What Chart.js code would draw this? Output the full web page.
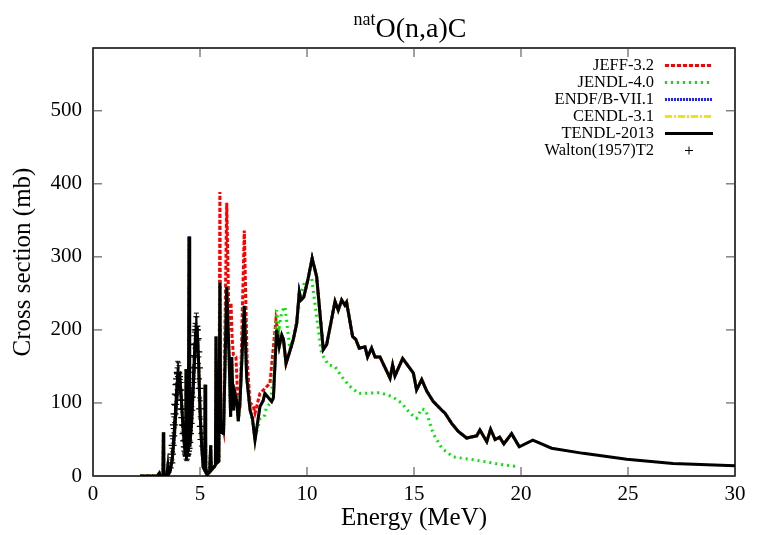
<!DOCTYPE html>
<html>
<head>
<meta charset="utf-8">
<script src="https://cdn.jsdelivr.net/npm/chart.js@4/dist/chart.umd.min.js"></script>
<style>
  html, body { margin: 0; padding: 0; background: #fff; }
  #wrap { width: 761px; height: 535px; }
</style>
</head>
<body>
<div id="wrap"><canvas id="myChart" width="761" height="535"></canvas></div>
<script>
// TENDL-2013 (black)
const tendlE = [2.2, 3.0, 3.1, 3.15, 3.27, 3.29, 3.31, 3.45, 3.5, 3.54, 3.6, 3.7, 3.8, 3.9, 3.98, 4.05, 4.12, 4.2, 4.28, 4.33,
  4.35, 4.37, 4.45, 4.49, 4.52, 4.6, 4.7, 4.8, 4.86, 4.93, 5.0, 5.08, 5.15, 5.22, 5.24, 5.27, 5.35, 5.45, 5.5, 5.53,
  5.65, 5.72, 5.75, 5.8, 5.88, 5.93, 5.97, 6.1, 6.25, 6.36, 6.43, 6.48, 6.56, 6.64, 6.71, 6.79, 6.87, 7.07, 7.18, 7.34,
  7.45, 7.57, 7.8, 7.95, 8.03, 8.35, 8.43, 8.58, 8.7, 8.82, 8.9, 9.02, 9.2, 9.36, 9.52, 9.64, 9.72, 9.85, 10.05, 10.24,
  10.45, 10.76, 10.92, 11.31, 11.46, 11.62, 11.77, 11.85, 12.13, 12.28, 12.44, 12.71, 12.83, 13.02, 13.18, 13.41, 13.88, 14.0, 14.11, 14.47,
  14.97, 15.12, 15.36, 15.6, 15.9, 16.3, 16.45, 16.76, 17.07, 17.46, 17.93, 18.08, 18.4, 18.58, 18.79, 19.0, 19.2, 19.56, 19.92, 20.55,
  21.43, 22.91, 24.94, 27.1, 30];
const tendlV = [0, 0, 4, 0, 0, 60, 0, 2, 14, 3, 6, 22, 55, 100, 135, 138, 110, 70, 40, 30,
  146, 30, 35, 328, 40, 70, 130, 190, 205, 160, 90, 40, 12, 8, 125, 10, 2, 6, 42, 8,
  12, 15, 191, 18, 20, 265, 60, 58, 259, 163, 81, 163, 90, 113, 103, 75, 103, 233, 136, 90,
  79, 49, 95, 103, 113, 102, 107, 200, 177, 193, 187, 154, 171, 187, 209, 252, 241, 245, 270, 298,
  273, 173, 180, 239, 227, 241, 234, 238, 191, 187, 175, 177, 163, 175, 163, 163, 134, 152, 137, 161,
  141, 118, 132, 116, 102, 90, 86, 72, 61, 52, 55, 63, 47, 64, 50, 53, 44, 58, 40, 49,
  38, 31, 23, 17, 14];

// JEFF-3.2 (red) where it differs from TENDL, below 9 MeV
const jeffE = [2.2, 3.0, 3.1, 3.15, 3.27, 3.29, 3.31, 3.45, 3.5, 3.54, 3.6, 3.7, 3.8, 3.9, 3.98, 4.05, 4.12, 4.2, 4.28, 4.33,
  4.35, 4.37, 4.45, 4.49, 4.52, 4.6, 4.7, 4.8, 4.86, 4.93, 5.0, 5.08, 5.15, 5.22, 5.24, 5.27, 5.35, 5.45, 5.5, 5.53,
  5.65, 5.72, 5.75, 5.8, 5.88, 5.93, 5.97, 6.1, 6.25, 6.36, 6.45, 6.5, 6.56, 6.68, 6.74, 6.87, 7.07, 7.2, 7.34, 7.49,
  7.57, 7.8, 8.04, 8.27, 8.55, 8.7, 8.82, 8.9];
const jeffV = [0, 0, 4, 0, 0, 60, 0, 2, 14, 3, 6, 22, 55, 100, 135, 138, 110, 70, 40, 30,
  146, 30, 35, 328, 40, 70, 130, 190, 205, 160, 90, 40, 12, 8, 125, 10, 2, 6, 42, 8,
  12, 15, 191, 18, 20, 389, 80, 62, 374, 200, 237, 190, 166, 163, 123, 92, 336, 160, 100, 96,
  86, 113, 120, 127, 214, 187, 193, 187];

// JENDL-4.0 (green) above 7.4 MeV; below that it follows TENDL
const jendlE = [7.45, 7.57, 7.7, 7.8, 8.0, 8.1, 8.3, 8.45, 8.58, 8.7, 8.82, 8.97, 9.1, 9.2, 9.36, 9.52, 9.7, 9.85, 10.0, 10.22,
  10.45, 10.68, 11.0, 11.3, 11.62, 12.0, 12.4, 13.41, 13.96, 14.42, 14.81, 15.12, 15.36, 15.55, 15.9, 16.3, 16.84, 17.6, 18.24, 19.0,
  19.8];
const jendlV = [75, 55, 65, 78, 81, 94, 100, 150, 227, 203, 225, 232, 200, 173, 190, 215, 245, 262, 268, 271,
  218, 168, 152, 150, 136, 123, 113, 114, 109, 100, 86, 79, 92, 90, 58, 38, 26, 23, 20, 16,
  13];

// Walton (1957) T2 experimental points with error bars
const walE = [3.66, 3.69, 3.72, 3.75, 3.78, 3.81, 3.84, 3.87, 3.90, 3.93, 3.96, 3.99, 4.02, 4.05, 4.08, 4.11, 4.14, 4.17, 4.20, 4.23,
  4.26, 4.29, 4.32, 4.35, 4.38, 4.41, 4.44, 4.47, 4.50, 4.53, 4.56, 4.59, 4.62, 4.65, 4.68, 4.71, 4.74, 4.77, 4.80, 4.83,
  4.86, 4.89, 4.92, 4.95, 4.98, 5.01, 5.04, 5.07];
const walV = [18, 30, 42, 55, 70, 85, 98, 112, 125, 133, 142, 140, 136, 128, 118, 104, 92, 80, 70, 58,
  48, 40, 34, 30, 28, 30, 34, 38, 46, 58, 72, 90, 108, 128, 148, 165, 180, 192, 200, 205,
  200, 188, 170, 148, 120, 92, 68, 50];
const walErr = [7, 8, 9, 10, 11, 12, 13, 14, 15, 15, 15, 15, 15, 14, 14, 13, 12, 11, 10, 9,
  8, 8, 7, 7, 7, 7, 7, 8, 8, 9, 10, 11, 13, 14, 15, 16, 17, 17, 18, 18,
  18, 17, 16, 15, 13, 11, 10, 9];

const xTicks = [0, 5, 10, 15, 20, 25, 30];
const yTicks = [0, 100, 200, 300, 400, 500];

const FONT = "'Liberation Serif', 'DejaVu Serif', serif";

const pts = (xs, ys) => xs.map((x, i) => ({ x: x, y: ys[i] }));
const tendl = pts(tendlE, tendlV);
const upTo20 = tendl.filter(p => p.x <= 20);
const jeff = pts(jeffE, jeffV).concat(tendl.filter(p => p.x > 9 && p.x <= 20));
const jendl = tendl.filter(p => p.x < 7.4).concat(pts(jendlE, jendlV));

const legendItems = [
    { label: 'JEFF-3.2', color: '#ff0000', dash: [4, 2] },
    { label: 'JENDL-4.0', color: '#00e600', dash: [2, 4] },
    { label: 'ENDF/B-VII.1', color: '#2020ff', dash: [2, 1] },
    { label: 'CENDL-3.1', color: '#f2e600', dash: [7, 2, 2, 2] },
    { label: 'TENDL-2013', color: '#000000', dash: [] },
    { label: 'Walton(1957)T2', color: '#000000', cross: true }
];

const lineSet = (item, data, order) => ({
    label: item.label,
    data: data,
    showLine: true,
    borderColor: item.color,
    borderWidth: 3,
    borderDash: item.dash,
    pointRadius: 0,
    tension: 0,
    order: order
});

// frame, inward ticks, titles, legend, error bars
const decor = {
    id: 'decor',
    afterDatasetsDraw(chart) {
        const ctx = chart.ctx;
        const a = chart.chartArea;
        const xs = chart.scales.x, ys = chart.scales.y;
        ctx.save();

        // error bars for the Walton set
        ctx.strokeStyle = '#000';
        ctx.lineWidth = 1;
        walE.forEach((e, i) => {
            const px = xs.getPixelForValue(e);
            const y1 = ys.getPixelForValue(walV[i] - walErr[i]);
            const y2 = ys.getPixelForValue(walV[i] + walErr[i]);
            ctx.beginPath();
            ctx.moveTo(px, y1); ctx.lineTo(px, y2);
            ctx.moveTo(px - 2.5, y1); ctx.lineTo(px + 2.5, y1);
            ctx.moveTo(px - 2.5, y2); ctx.lineTo(px + 2.5, y2);
            ctx.stroke();
        });

        // frame
        ctx.lineWidth = 1.5;
        ctx.strokeRect(a.left, a.top, a.right - a.left, a.bottom - a.top);

        // inward ticks on all four sides
        ctx.lineWidth = 1;
        ctx.strokeStyle = '#444';
        const tl = 9;
        xTicks.forEach(v => {
            const px = xs.getPixelForValue(v);
            ctx.beginPath();
            ctx.moveTo(px, a.bottom); ctx.lineTo(px, a.bottom - tl);
            ctx.moveTo(px, a.top); ctx.lineTo(px, a.top + tl);
            ctx.stroke();
        });
        yTicks.forEach(v => {
            const py = ys.getPixelForValue(v);
            ctx.beginPath();
            ctx.moveTo(a.left, py); ctx.lineTo(a.left + tl, py);
            ctx.moveTo(a.right, py); ctx.lineTo(a.right - tl, py);
            ctx.stroke();
        });

        // title with superscript
        ctx.fillStyle = '#000';
        ctx.textBaseline = 'alphabetic';
        ctx.textAlign = 'left';
        ctx.font = '18px ' + FONT;
        const wSup = ctx.measureText('nat').width;
        ctx.font = '28px ' + FONT;
        const wMain = ctx.measureText('O(n,a)C').width;
        const x0 = 410 - (wSup + wMain) / 2;
        ctx.font = '18px ' + FONT;
        ctx.fillText('nat', x0, 25);
        ctx.font = '28px ' + FONT;
        ctx.fillText('O(n,a)C', x0 + wSup, 37);

        // axis titles
        ctx.font = '25px ' + FONT;
        ctx.textAlign = 'center';
        ctx.textBaseline = 'middle';
        ctx.fillText('Energy (MeV)', (a.left + a.right) / 2, 518);
        ctx.save();
        ctx.translate(23, (a.top + a.bottom) / 2);
        ctx.rotate(-Math.PI / 2);
        ctx.fillText('Cross section (mb)', 0, 0);
        ctx.restore();

        // legend
        ctx.font = '16.5px ' + FONT;
        ctx.textAlign = 'right';
        legendItems.forEach((it, i) => {
            const y = 65.5 + i * 17;
            ctx.fillStyle = '#000';
            ctx.fillText(it.label, 654, y);
            ctx.strokeStyle = it.color;
            if (it.cross) {
                ctx.lineWidth = 1;
                ctx.setLineDash([]);
                ctx.beginPath();
                ctx.moveTo(685, y); ctx.lineTo(693, y);
                ctx.moveTo(689, y - 4); ctx.lineTo(689, y + 4);
                ctx.stroke();
            } else {
                ctx.lineWidth = 3;
                ctx.setLineDash(it.dash);
                ctx.beginPath();
                ctx.moveTo(665, y); ctx.lineTo(713, y);
                ctx.stroke();
            }
        });
        ctx.restore();
    }
};

const chartCtx = document.getElementById('myChart').getContext('2d');
new Chart(chartCtx, {
    type: 'scatter',
    data: {
        datasets: [
            lineSet(legendItems[0], jeff, 5),
            lineSet(legendItems[1], jendl, 4),
            lineSet(legendItems[2], upTo20, 3),
            lineSet(legendItems[3], upTo20, 2),
            lineSet(legendItems[4], tendl, 0),
            {
                label: 'Walton(1957)T2',
                data: pts(walE, walV),
                showLine: false,
                pointStyle: 'cross',
                pointRadius: 4,
                borderColor: '#000',
                borderWidth: 1.2,
                order: 1
            }
        ]
    },
    options: {
        responsive: false,
        animation: false,
        layout: { padding: { left: 0, right: 26, top: 48, bottom: 0 } },
        plugins: {
            legend: { display: false },
            title: { display: false },
            tooltip: { enabled: false }
        },
        scales: {
            x: {
                type: 'linear',
                min: 0,
                max: 30,
                afterFit: s => { s.height = 59; },
                grid: { display: false },
                border: { display: false },
                ticks: {
                    stepSize: 5,
                    padding: -2,
                    color: '#000',
                    maxRotation: 0,
                    font: { family: FONT, size: 21 }
                }
            },
            y: {
                type: 'linear',
                min: 0,
                max: 586,
                afterFit: s => { s.width = 93; },
                grid: { display: false },
                border: { display: false },
                ticks: {
                    stepSize: 100,
                    includeBounds: false,
                    padding: 3,
                    color: '#000',
                    font: { family: FONT, size: 21 }
                }
            }
        }
    },
    plugins: [decor]
});
</script>
</body>
</html>
